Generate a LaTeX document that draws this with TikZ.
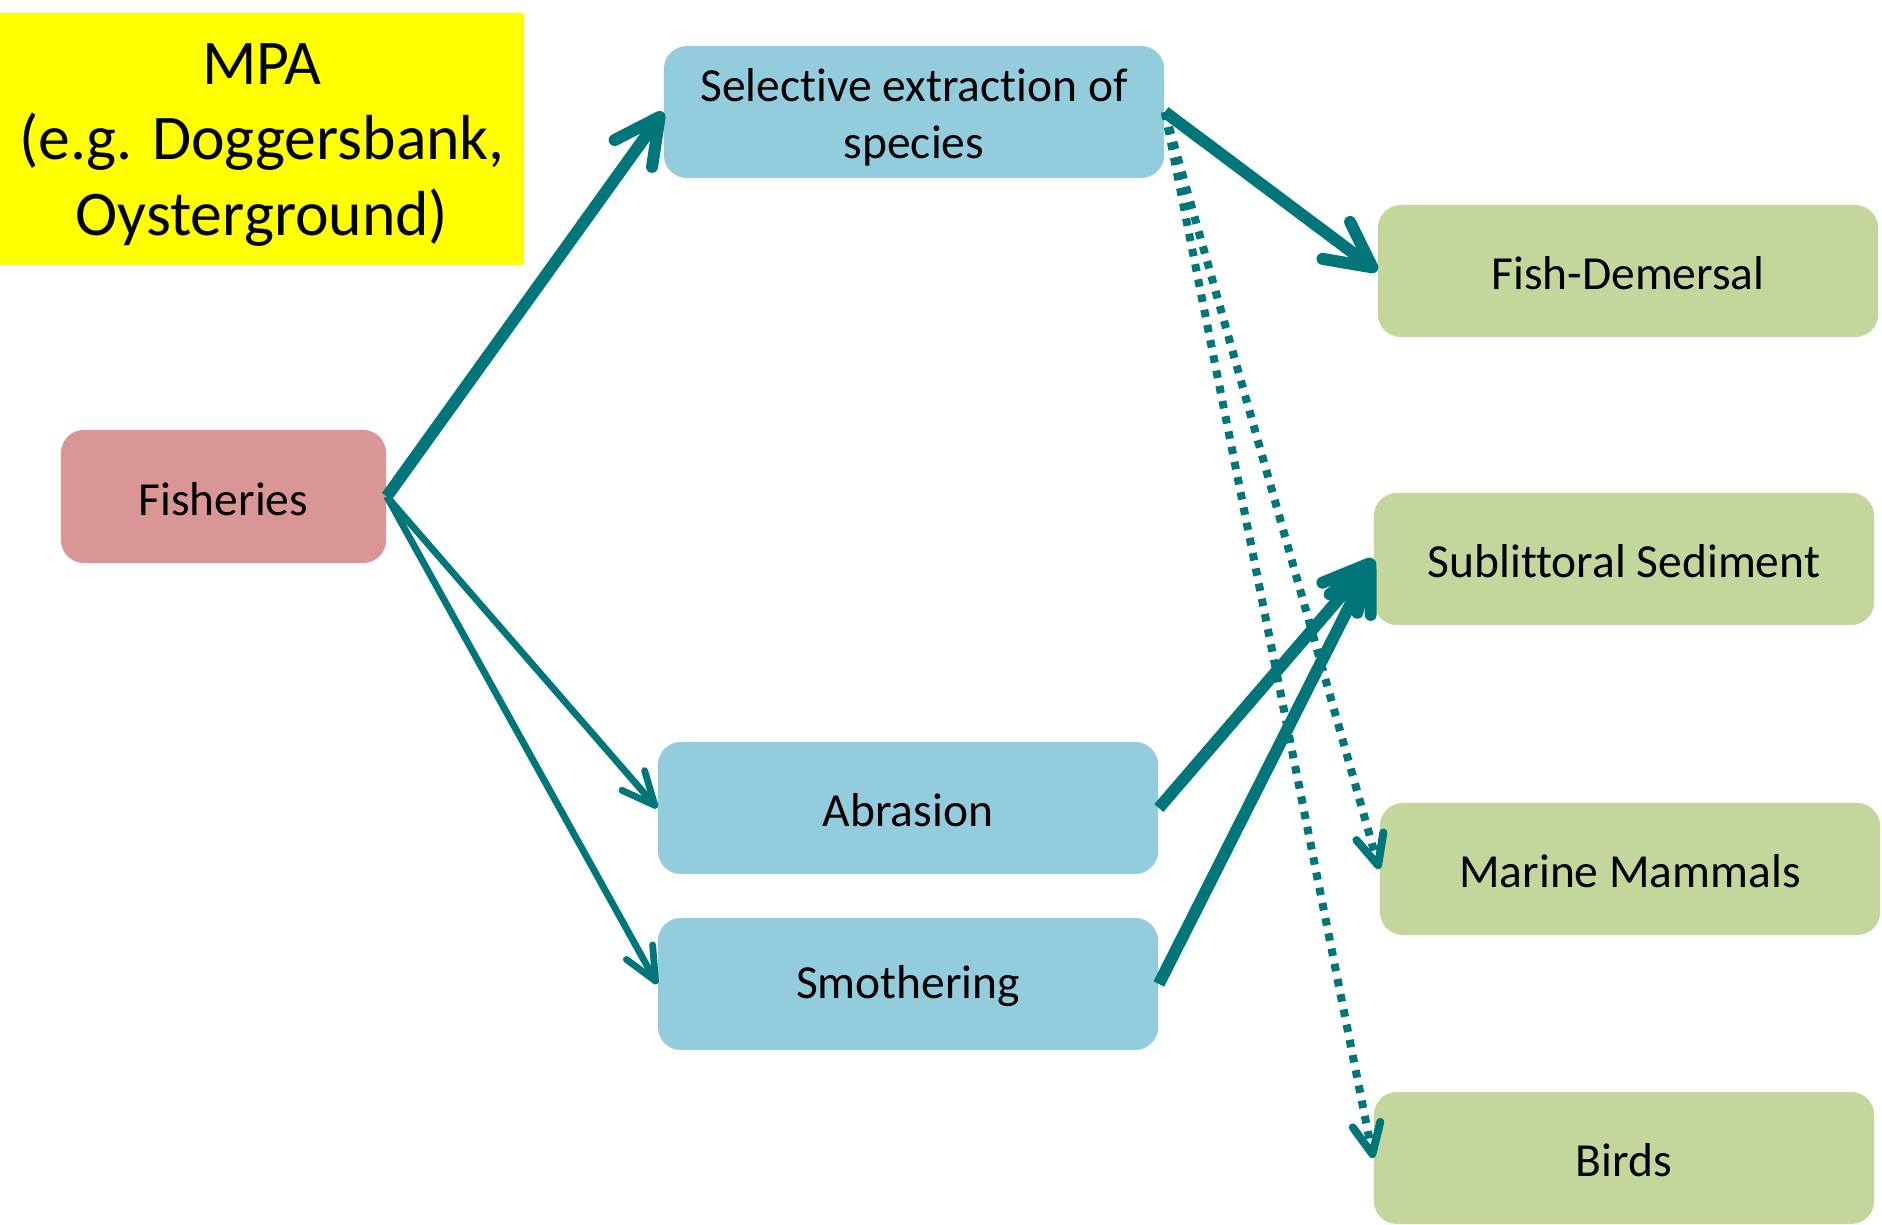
\documentclass[tikz,border=0pt]{standalone}
\usepackage{fontspec}
\setmainfont[Ligatures={NoCommon,NoContextual}, Contextuals=NoAlternate]{Carlito}
\usetikzlibrary{arrows.meta,calc}

\definecolor{linkteal}{RGB}{0,118,122}
\definecolor{pressblue}{RGB}{147,205,221}
\definecolor{sourcepink}{RGB}{217,150,148}
\definecolor{receptgreen}{RGB}{195,214,155}
\definecolor{mpayellow}{RGB}{255,255,0}

\begin{document}
\begin{tikzpicture}[x=0.01cm,y=-0.01cm,
  box/.style={rounded corners=0.23cm, minimum width=5cm, minimum height=1.32cm,
    inner sep=0pt},
  lbl/.style={align=center, text=black, inner sep=0pt, yshift=-0.025cm,
    font=\fontsize{13.5}{16.4}\selectfont},
  source/.style={box, fill=sourcepink, minimum width=3.25cm, minimum height=1.33cm},
  pressure/.style={box, fill=pressblue},
  receptor/.style={box, fill=receptgreen},
  strong/.style={draw=linkteal, line width=0.12cm,
    -{Straight Barb[length=0.45cm,width=0.46cm,round]}},
  weak/.style={draw=linkteal, line width=0.068cm,
    -{Straight Barb[length=0.33cm,width=0.3cm,round]}},
  possible/.style={draw=linkteal, line width=0.08cm, dash pattern=on 0.075cm off 0.08cm,
    -{Straight Barb[length=0.3cm,width=0.28cm,round]}}
]
% page
\useasboundingbox (0,0) rectangle (1882,1224);
\fill[white] (0,0) rectangle (1882,1224);

% area label
\node[fill=mpayellow, minimum width=5.24cm, minimum height=2.52cm, inner sep=0pt,
  label={[align=center, inner sep=0pt, yshift=-0.06cm,
    font=\fontsize{18.1}{21.5}\selectfont]center:MPA\\(e.g. Doggersbank,\\Oysterground)}]
  (mpa) at (262,139) {};

% activity
\node[source, label={[lbl]center:Fisheries}] (fish) at (223.5,496.5) {};

% pressures
\node[pressure, label={[lbl, yshift=-0.03cm]center:Selective extraction of\\species}]
  (sel) at (914,112) {};
\node[pressure, label={[lbl]center:Abrasion}] (abr) at (908,808) {};
\node[pressure, label={[lbl]center:Smothering}] (smo) at (908,984) {};

% receptors
\node[receptor, label={[lbl]center:Fish-Demersal}] (dem) at (1628,271) {};
\node[receptor, label={[lbl]center:Sublittoral Sediment}] (sub) at (1624,559) {};
\node[receptor, label={[lbl]center:Marine Mammals}] (mam) at (1630,869) {};
\node[receptor, label={[lbl]center:Birds}] (bird) at (1624,1158) {};

% links
\draw[strong] (fish.east) -- (sel.west);
\draw[weak] (fish.east) -- (abr.west);
\draw[weak] (fish.east) -- (smo.west);
\draw[strong] (sel.east) -- (dem.west);
\draw[strong] (abr.east) -- (sub.west);
\draw[strong] (smo.east) -- (sub.west);
\draw[possible] (sel.east) -- (mam.west);
\draw[possible] (sel.east) -- (bird.west);
\end{tikzpicture}
\end{document}
